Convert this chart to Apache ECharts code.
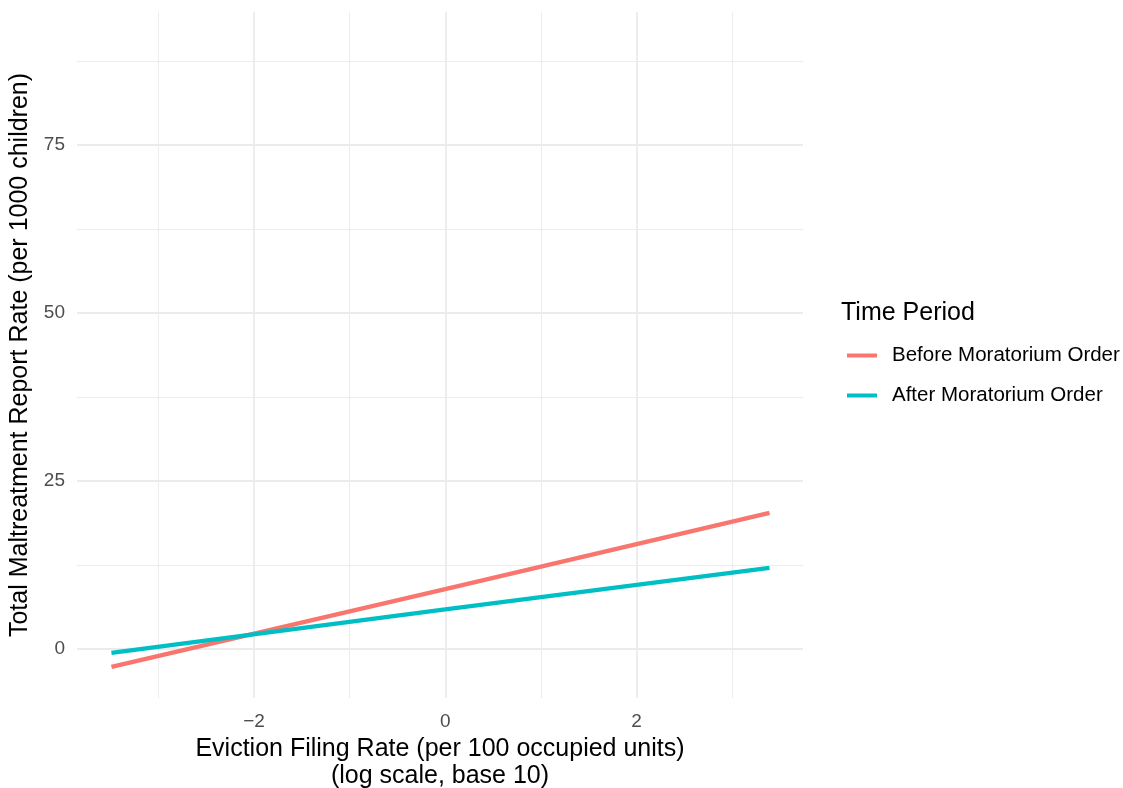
<!DOCTYPE html>
<html>
<head>
<meta charset="utf-8">
<script src="https://cdn.jsdelivr.net/npm/echarts@6/dist/echarts.min.js"></script>
<style>
html,body{margin:0;padding:0;background:#fff;}
#chart{width:1123px;height:788px;}
</style>
</head>
<body>
<div id="chart"></div>
<script>
// Data
const seriesNames = ['Before Moratorium Order', 'After Moratorium Order'];
const beforeX = [-3.49, 0, 3.39];
const beforeY = [-2.68, 8.9, 20.24];
const afterX = [-3.49, 0, 3.39];
const afterY = [-0.6, 5.9, 12.05];

const xTickLabels = [-2, 0, 2];
const xMinorGrid = [-3, -1, 1, 3];
const yTickLabels = [0, 25, 50, 75];
const yMinorGrid = [12.5, 37.5, 62.5, 87.5];

const colors = ['#F8766D', '#00BFC4'];
const FONT = 'Liberation Sans, Arial, sans-serif';

function pairs(xs, ys) { return xs.map((x, i) => [x, ys[i]]); }

const majorStyle = { color: '#EBEBEB', width: 1.8, type: 'solid' };
const minorStyle = { color: '#EBEBEB', width: 0.9, type: 'solid' };

const gridLines = []
  .concat(xTickLabels.map(v => ({ xAxis: v, lineStyle: majorStyle })))
  .concat(xMinorGrid.map(v => ({ xAxis: v, lineStyle: minorStyle })))
  .concat(yTickLabels.map(v => ({ yAxis: v, lineStyle: majorStyle })))
  .concat(yMinorGrid.map(v => ({ yAxis: v, lineStyle: minorStyle })));

const chart = echarts.init(document.getElementById('chart'), null, { renderer: 'canvas' });
chart.setOption({
  animation: false,
  backgroundColor: '#ffffff',
  textStyle: { fontFamily: FONT },
  title: {
    text: 'Time Period',
    left: 836,
    top: 296,
    textStyle: { fontFamily: FONT, fontSize: 25, fontWeight: 'normal', color: '#000' }
  },
  legend: {
    data: seriesNames,
    orient: 'vertical',
    left: 842,
    top: 340,
    icon: 'rect',
    itemWidth: 30,
    itemHeight: 4,
    itemGap: 19,
    textStyle: { fontFamily: FONT, fontSize: 20.5, color: '#000', padding: [0, 0, 0, 10] }
  },
  grid: { left: 77, right: 320, top: 12, bottom: 90, containLabel: false, outerBoundsMode: 'none' },
  xAxis: {
    type: 'value',
    min: -3.85,
    max: 3.74,
    name: 'Eviction Filing Rate (per 100 occupied units)\n(log scale, base 10)',
    nameLocation: 'middle',
    nameGap: 33,
    nameTextStyle: { fontFamily: FONT, fontSize: 25, color: '#000', lineHeight: 27, verticalAlign: 'top' },
    axisLine: { show: false },
    axisTick: { show: false },
    splitLine: { show: false },
    axisLabel: {
      customValues: xTickLabels,
      margin: 14,
      fontFamily: FONT,
      fontSize: 19,
      color: '#4D4D4D',
      formatter: v => (v < 0 ? '\u2212' + Math.abs(v) : String(v))
    }
  },
  yAxis: {
    type: 'value',
    min: -7.3,
    max: 94.8,
    name: 'Total Maltreatment Report Rate (per 1000 children)',
    nameLocation: 'middle',
    nameGap: 37,
    nameTextStyle: { fontFamily: FONT, fontSize: 25, color: '#000' },
    axisLine: { show: false },
    axisTick: { show: false },
    splitLine: { show: false },
    axisLabel: {
      customValues: yTickLabels,
      margin: 12,
      fontFamily: FONT,
      fontSize: 19,
      color: '#4D4D4D'
    }
  },
  series: [
    {
      name: '__grid',
      type: 'line',
      data: [],
      z: 1,
      silent: true,
      markLine: {
        z: 1,
        silent: true,
        symbol: ['none', 'none'],
        label: { show: false },
        emphasis: { disabled: true },
        animation: false,
        data: gridLines
      }
    },
    {
      name: seriesNames[0],
      type: 'line',
      data: pairs(beforeX, beforeY),
      showSymbol: false,
      symbol: 'none',
      z: 6,
      itemStyle: { color: colors[0] },
      lineStyle: { color: colors[0], width: 4.3 }
    },
    {
      name: seriesNames[1],
      type: 'line',
      data: pairs(afterX, afterY),
      showSymbol: false,
      symbol: 'none',
      z: 7,
      itemStyle: { color: colors[1] },
      lineStyle: { color: colors[1], width: 4.3 }
    }
  ]
});
</script>
</body>
</html>
